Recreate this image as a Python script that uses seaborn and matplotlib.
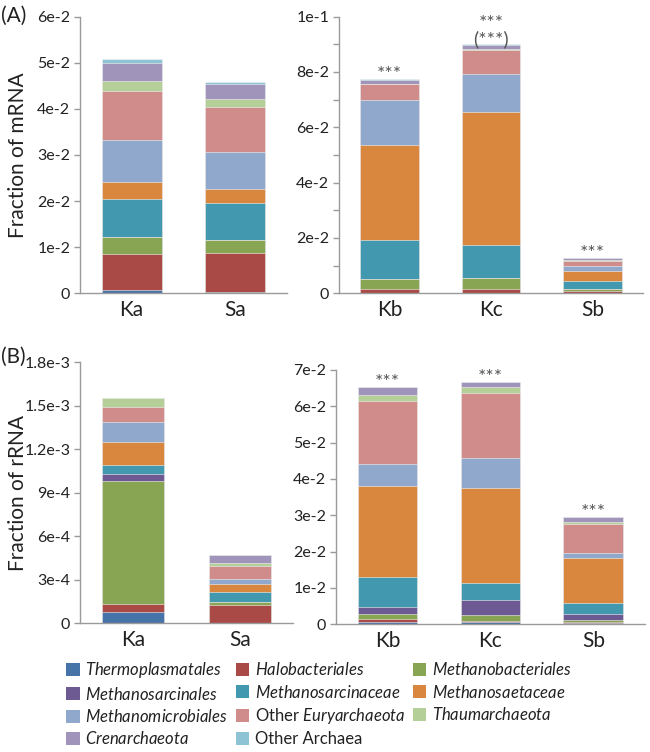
import numpy as np
import pandas as pd
import matplotlib
matplotlib.use("Agg")
import matplotlib.pyplot as plt
from matplotlib.patches import Patch
import seaborn as sns

# taxa, bottom to top of each stack
taxa = ["Thermoplasmatales", "Halobacteriales", "Methanobacteriales",
        "Methanosarcinales", "Methanosarcinaceae", "Methanosaetaceae",
        "Methanomicrobiales", "Other Euryarchaeota", "Thaumarchaeota",
        "Crenarchaeota", "Other Archaea"]
colors = ["#4673a8", "#a94a47", "#87a553", "#6e5a92", "#4298af", "#d9863f",
          "#8fa8cc", "#cf8c8b", "#b5cf98", "#a194bb", "#8ec3d6"]

# fraction of mRNA, segment sizes per sample
mrna_left = ["Ka", "Sa"]
mrna_ka = [0.0007, 0.0079, 0.0037, 0.0, 0.0081, 0.0038, 0.0091, 0.0106, 0.0021, 0.0040, 0.0008]
mrna_sa = [0.0003, 0.0085, 0.0027, 0.0, 0.0080, 0.0032, 0.0079, 0.0098, 0.0018, 0.0032, 0.0005]
mrna_right = ["Kb", "Kc", "Sb"]
mrna_kb = [0.0002, 0.0012, 0.0036, 0.0, 0.0141, 0.0346, 0.0162, 0.0056, 0.0003, 0.0012, 0.0004]
mrna_kc = [0.0002, 0.0012, 0.0043, 0.0, 0.0119, 0.0480, 0.0138, 0.0085, 0.0005, 0.0014, 0.0003]
mrna_sb = [0.0001, 0.0009, 0.0007, 0.0, 0.0026, 0.0038, 0.0018, 0.0018, 0.0003, 0.0007, 0.0002]
mrna_stars = ["***", "***\n(***)", "***"]

# fraction of rRNA
rrna_left = ["Ka", "Sa"]
rrna_ka = [0.74e-4, 0.60e-4, 8.47e-4, 0.46e-4, 0.62e-4, 1.63e-4, 1.34e-4, 1.01e-4, 0.62e-4, 0.0, 0.0]
rrna_sa = [0.02e-4, 1.25e-4, 0.18e-4, 0.02e-4, 0.69e-4, 0.56e-4, 0.34e-4, 0.90e-4, 0.21e-4, 0.55e-4, 0.0]
rrna_right = ["Kb", "Kc", "Sb"]
rrna_kb = [0.046e-2, 0.101e-2, 0.128e-2, 0.211e-2, 0.817e-2, 2.514e-2, 0.596e-2, 1.743e-2, 0.147e-2, 0.238e-2, 0.0]
rrna_kc = [0.055e-2, 0.045e-2, 0.139e-2, 0.431e-2, 0.468e-2, 2.623e-2, 0.826e-2, 1.771e-2, 0.174e-2, 0.138e-2, 0.0]
rrna_sb = [0.030e-2, 0.034e-2, 0.056e-2, 0.155e-2, 0.321e-2, 1.221e-2, 0.155e-2, 0.799e-2, 0.036e-2, 0.147e-2, 0.0]
rrna_stars = ["***", "***", "***"]

sns.set_style("white")
plt.rcParams["font.family"] = ["Lato", "DejaVu Sans"]
plt.rcParams["mathtext.fontset"] = "custom"
plt.rcParams["mathtext.rm"] = "Lato"
plt.rcParams["mathtext.it"] = "Lato:italic"

AXIS_GREY = "#9a9a9a"
TEXT = "#222222"


def stacked(ax, samples, columns, ymax, yticks, ylabels, minor=None, stars=None):
    df = pd.DataFrame(np.array(columns).T, index=taxa, columns=samples)
    cum = df.cumsum()
    for name, col in zip(reversed(taxa), reversed(colors)):
        sns.barplot(x=samples, y=cum.loc[name].values, order=samples, color=col,
                    width=0.58, saturation=1, linewidth=0.4, edgecolor="#f4f4f4", ax=ax)
    n = len(samples)
    ax.set_xlim(-0.5, n - 0.5)
    ax.set_ylim(0, ymax)
    ax.set_xticks(range(n))
    ax.set_xticklabels(samples, fontsize=15, color=TEXT)
    ax.set_xticks(np.arange(n + 1) - 0.5, minor=True)
    ax.tick_params(axis="x", which="major", length=0, pad=5)
    ax.tick_params(axis="x", which="minor", length=4, width=1, color=AXIS_GREY, direction="out")
    ax.set_yticks(yticks)
    ax.set_yticklabels(ylabels, fontsize=11.5, color=TEXT)
    if minor is not None:
        ax.set_yticks(minor, minor=True)
    ax.tick_params(axis="y", which="both", length=4, width=1, color=AXIS_GREY,
                   direction="out", left=True, pad=3)
    sns.despine(ax=ax)
    for s in ["left", "bottom"]:
        ax.spines[s].set_color(AXIS_GREY)
        ax.spines[s].set_linewidth(1)
    ax.set_xlabel("")
    ax.set_ylabel("")
    if stars:
        totals = cum.iloc[-1].values
        for i, (t, s) in enumerate(zip(totals, stars)):
            ax.annotate(s, xy=(i, t), xytext=(0, -3), textcoords="offset points",
                        ha="center", va="bottom", fontsize=14, color="#555555",
                        linespacing=0.85, annotation_clip=False)


fig = plt.figure(figsize=(6.5, 7.52), dpi=100)

ax1 = fig.add_axes([0.123, 0.610, 0.318, 0.368])
stacked(ax1, mrna_left, [mrna_ka, mrna_sa], 0.06,
        [0, 0.01, 0.02, 0.03, 0.04, 0.05, 0.06],
        ["0", "1e-2", "2e-2", "3e-2", "4e-2", "5e-2", "6e-2"])

ax2 = fig.add_axes([0.5215, 0.610, 0.468, 0.368])
stacked(ax2, mrna_right, [mrna_kb, mrna_kc, mrna_sb], 0.1,
        [0, 0.02, 0.04, 0.06, 0.08, 0.1],
        ["0", "2e-2", "4e-2", "6e-2", "8e-2", "1e-1"],
        minor=[0.01, 0.03, 0.05, 0.07, 0.09], stars=mrna_stars)

ax3 = fig.add_axes([0.123, 0.1715, 0.328, 0.347])
stacked(ax3, rrna_left, [rrna_ka, rrna_sa], 0.0018,
        [0, 3e-4, 6e-4, 9e-4, 1.2e-3, 1.5e-3, 1.8e-3],
        ["0", "3e-4", "6e-4", "9e-4", "1.2e-3", "1.5e-3", "1.8e-3"])

ax4 = fig.add_axes([0.517, 0.170, 0.475, 0.338])
stacked(ax4, rrna_right, [rrna_kb, rrna_kc, rrna_sb], 0.07,
        [0, 0.01, 0.02, 0.03, 0.04, 0.05, 0.06, 0.07],
        ["0", "1e-2", "2e-2", "3e-2", "4e-2", "5e-2", "6e-2", "7e-2"],
        stars=rrna_stars)

fig.text(0.028, 0.610 + 0.368 / 2, "Fraction of mRNA", rotation=90, ha="center",
         va="center", fontsize=15, color=TEXT)
fig.text(0.028, 0.1715 + 0.347 / 2, "Fraction of rRNA", rotation=90, ha="center",
         va="center", fontsize=15, color=TEXT)
fig.text(0.002, 1 - 16 / 752, "(A)", ha="left", va="center", fontsize=15, color=TEXT)
fig.text(0.002, 1 - 357 / 752, "(B)", ha="left", va="center", fontsize=15, color=TEXT)

# legend, laid out row by row like the original (3 columns)
labels = []
for t in taxa:
    if t == "Other Euryarchaeota":
        labels.append("Other $\\it{Euryarchaeota}$")
    elif t == "Other Archaea":
        labels.append(t)
    else:
        labels.append("$\\it{" + t + "}$")
handles = [Patch(facecolor=c, edgecolor="none") for c in colors]
order = [0, 3, 6, 9, 1, 4, 7, 10, 2, 5, 8]
fig.legend([handles[i] for i in order], [labels[i] for i in order],
           loc="upper left", bbox_to_anchor=(0.102, 1 - 660 / 752), ncol=3,
           frameon=False, fontsize=12, handlelength=0.8, handleheight=0.8,
           handletextpad=0.35, columnspacing=0.45, labelspacing=0.33,
           borderaxespad=0, borderpad=0, labelcolor=TEXT)

fig.savefig("out.png", dpi=100)
